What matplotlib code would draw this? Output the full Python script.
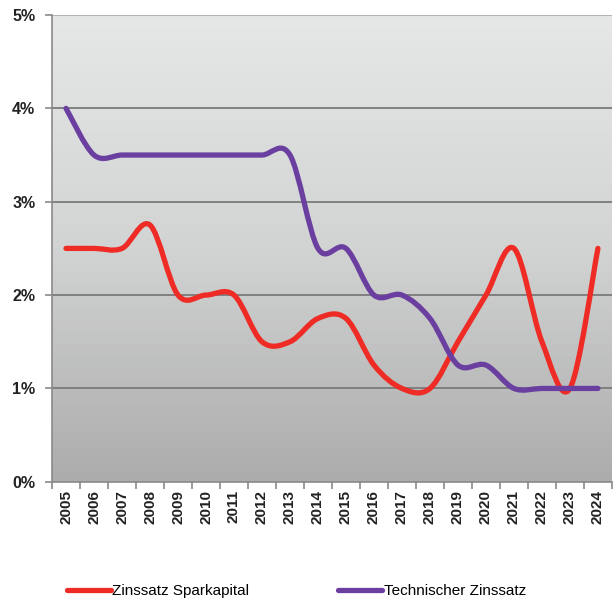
import numpy as np
import matplotlib
matplotlib.use("Agg")
import matplotlib.pyplot as plt
from matplotlib.path import Path
from matplotlib.patches import PathPatch
from matplotlib.lines import Line2D
from matplotlib.colors import LinearSegmentedColormap
from matplotlib.ticker import FixedLocator, FuncFormatter

plt.rcParams["font.family"] = ["Liberation Sans", "DejaVu Sans"]

years = [str(y) for y in range(2005, 2025)]
sparkapital = [2.5, 2.5, 2.5, 2.75, 2.0, 2.0, 2.0, 1.5, 1.5, 1.75,
               1.75, 1.25, 1.0, 1.0, 1.5, 2.0, 2.5, 1.5, 1.0, 2.5]
technisch = [4.0, 3.5, 3.5, 3.5, 3.5, 3.5, 3.5, 3.5, 3.5, 2.5,
             2.5, 2.0, 2.0, 1.75, 1.25, 1.25, 1.0, 1.0, 1.0, 1.0]
labels = ["Zinssatz Sparkapital", "Technischer Zinssatz"]
colors = ["#ee2b24", "#6b3fa0"]


def smooth_path(xs, ys):
    # excel-like smoothed line: bezier segments through the points
    pts = np.column_stack([xs, ys]).astype(float)
    n = len(pts)
    verts = [pts[0]]
    codes = [Path.MOVETO]
    for i in range(n - 1):
        p0 = pts[i - 1] if i > 0 else pts[i]
        p1, p2 = pts[i], pts[i + 1]
        p3 = pts[i + 2] if i + 2 < n else pts[i + 1]
        c1 = p1 + (p2 - p0) / 6
        c2 = p2 - (p3 - p1) / 6
        verts += [c1, c2, p2]
        codes += [Path.CURVE4] * 3
    return Path(verts, codes)


fig = plt.figure(figsize=(6.15, 6.0), dpi=100)
ax = fig.add_axes([0.0846, 0.197, 0.9104, 0.778])

x = np.arange(len(years))
ax.set_xlim(-0.5, len(years) - 0.5)
ax.set_ylim(0, 5)

cmap = LinearSegmentedColormap.from_list("bg", ["#acacac", "#d2d3d3", "#e6e7e7"])
grad = np.linspace(0, 1, 256).reshape(-1, 1)
ax.imshow(grad, extent=[-0.5, len(years) - 0.5, 0, 5], origin="lower",
          aspect="auto", cmap=cmap, zorder=0)

for v in [1, 2, 3, 4]:
    ax.axhline(v, color="#7a7a7a", lw=1.3, zorder=1)
ax.axhline(5, color="#b4b4b4", lw=1.5, zorder=1)

for ys, c in zip([sparkapital, technisch], colors):
    ax.add_patch(PathPatch(smooth_path(x, ys), fill=False, edgecolor=c,
                           lw=3.8, capstyle="round", joinstyle="round", zorder=3))

for s in ["top", "right"]:
    ax.spines[s].set_visible(False)
ax.spines["left"].set_color("#8a8a8a")
ax.spines["bottom"].set_color("#8a8a8a")
ax.spines["left"].set_linewidth(1.2)
ax.spines["bottom"].set_linewidth(1.2)

ax.xaxis.set_major_locator(FixedLocator(np.arange(-0.5, len(years), 1.0)))
ax.xaxis.set_major_formatter(FuncFormatter(lambda v, p: ""))
ax.xaxis.set_minor_locator(FixedLocator(x))
ax.set_xticklabels(years, minor=True, rotation=90, fontsize=11, fontweight="bold")
ax.tick_params(axis="x", which="major", length=5, color="#8a8a8a", width=1.2)
ax.tick_params(axis="x", which="minor", length=0, pad=6)

ax.set_yticks([0, 1, 2, 3, 4, 5])
ax.yaxis.set_major_formatter(FuncFormatter(lambda v, p: f"{v:.0f}%"))
ax.tick_params(axis="y", length=5, color="#8a8a8a", width=1.2, labelsize=11.5, pad=7)
for t in ax.get_yticklabels():
    t.set_fontweight("bold")
    t.set_color("#222222")
for t in ax.get_xticklabels(minor=True):
    t.set_color("#222222")

handles = [Line2D([], [], color=c, lw=3.8, solid_capstyle="round") for c in colors]
fig.legend(handles, labels, loc="center left", bbox_to_anchor=(0.086, 0.015),
           ncol=2, frameon=False, fontsize=11, handlelength=2.9,
           handletextpad=0.1, columnspacing=5.8)

fig.savefig("out.png", dpi=100)
